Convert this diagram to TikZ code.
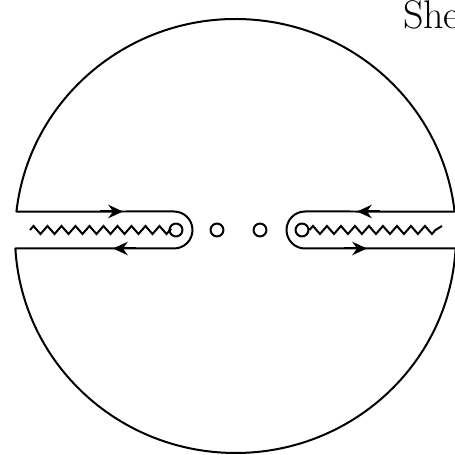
\documentclass[tikz,border=0pt]{standalone}
\usepackage{tikz}
\usetikzlibrary{arrows.meta, calc}

\begin{document}
\begin{tikzpicture}[
    x=0.02637cm, y=0.02637cm,
    line width=1.5pt,
    cut/.style={line join=miter},
    puncture/.style={circle, draw, minimum size=0.34cm, inner sep=0pt},
    flow/.style={-{Stealth[length=11pt, width=10pt, inset=3.5pt]}}
]

\clip (0,0) rectangle (455,455);

% Sheet label
\node[anchor=base west, font=\fontsize{30}{36}\selectfont, inner sep=0pt] (sheet) at (402,426) {She};

% Outer contour with two slits
\coordinate (centre) at (235.5,219);
\draw[line join=round] ($(centre)+(173.52:220.5 and 217)$) coordinate (lefttop)
    arc[start angle=173.52, end angle=6.48, x radius=220.5, y radius=217] coordinate (righttop)
    -- (305,243.5) arc[start angle=90, end angle=270, radius=18.5]
    -- ($(centre)+(-3.30:220.5 and 217)$) coordinate (rightbottom)
    arc[start angle=-3.30, end angle=-176.70, x radius=220.5, y radius=217] coordinate (leftbottom)
    -- (174,206.5) arc[start angle=-90, end angle=90, radius=18.5]
    -- cycle;

% Punctures
\node[puncture] (pl) at (176,225) {};
\node[puncture] (ml) at (217,225) {};
\node[puncture] (mr) at (260,225) {};
\node[puncture] (pr) at (302,225) {};

% Branch cuts
\coordinate (cutl) at (30,225);
\coordinate (cutr) at (442,229);
\draw[cut] (cutl) \foreach \k in {1,...,10} { -- ++(3.5,4) -- ++(7,-8) -- ++(3.5,4) } -- (pl.west);
\draw[cut] (pr.east) \foreach \k in {1,...,9} { -- ++(3.5,4) -- ++(7,-8) -- ++(3.5,4) } -- (cutr);

% Orientation
\coordinate (a1) at (100,243.5);
\coordinate (a2) at (123,243.5);
\coordinate (b1) at (136,206.5);
\coordinate (b2) at (113,206.5);
\coordinate (c1) at (380,243.5);
\coordinate (c2) at (357,243.5);
\coordinate (d1) at (344,206.5);
\coordinate (d2) at (367,206.5);
\draw[flow] (a1) -- (a2);
\draw[flow] (b1) -- (b2);
\draw[flow] (c1) -- (c2);
\draw[flow] (d1) -- (d2);

\end{tikzpicture}
\end{document}
